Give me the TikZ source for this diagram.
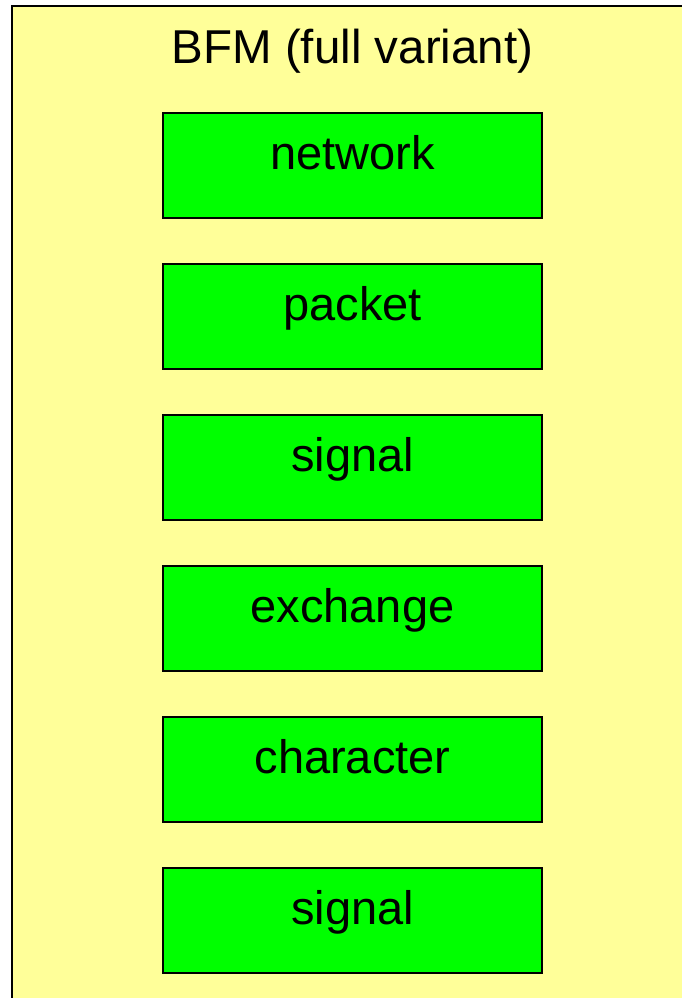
\documentclass[tikz,border=0pt]{standalone}
\usepackage{fontspec}
\setmainfont{Liberation Sans}
\definecolor{panelyellow}{HTML}{FFFF99}
\definecolor{boxgreen}{HTML}{00FF00}
\begin{document}
\begin{tikzpicture}[x=1pt,y=1pt,
  layerbox/.style={draw=black, line width=1.5pt, fill=boxgreen,
    minimum width=379pt, minimum height=105pt, inner sep=0pt,
    text height=20pt, text depth=11pt,
    font=\fontsize{47}{56}\selectfont},
  titletext/.style={anchor=base, inner sep=0pt, font=\fontsize{47.5}{56}\selectfont}]
\useasboundingbox (0,0) rectangle (682,998);
\draw[line width=2pt, fill=panelyellow] (12,992) rectangle (700,-20);
\node[titletext] (title) at (352.5,934) {BFM (full variant)};
\node[layerbox] (network)   at (352.5,998-165.5) {network};
\node[layerbox] (packet)    at (352.5,998-316.5) {packet};
\node[layerbox] (signalA)   at (352.5,998-467.5) {signal};
\node[layerbox] (exchange)  at (352.5,998-618.5) {exchange};
\node[layerbox] (character) at (352.5,998-769.5) {character};
\node[layerbox] (signalB)   at (352.5,998-920.5) {signal};
\end{tikzpicture}
\end{document}
